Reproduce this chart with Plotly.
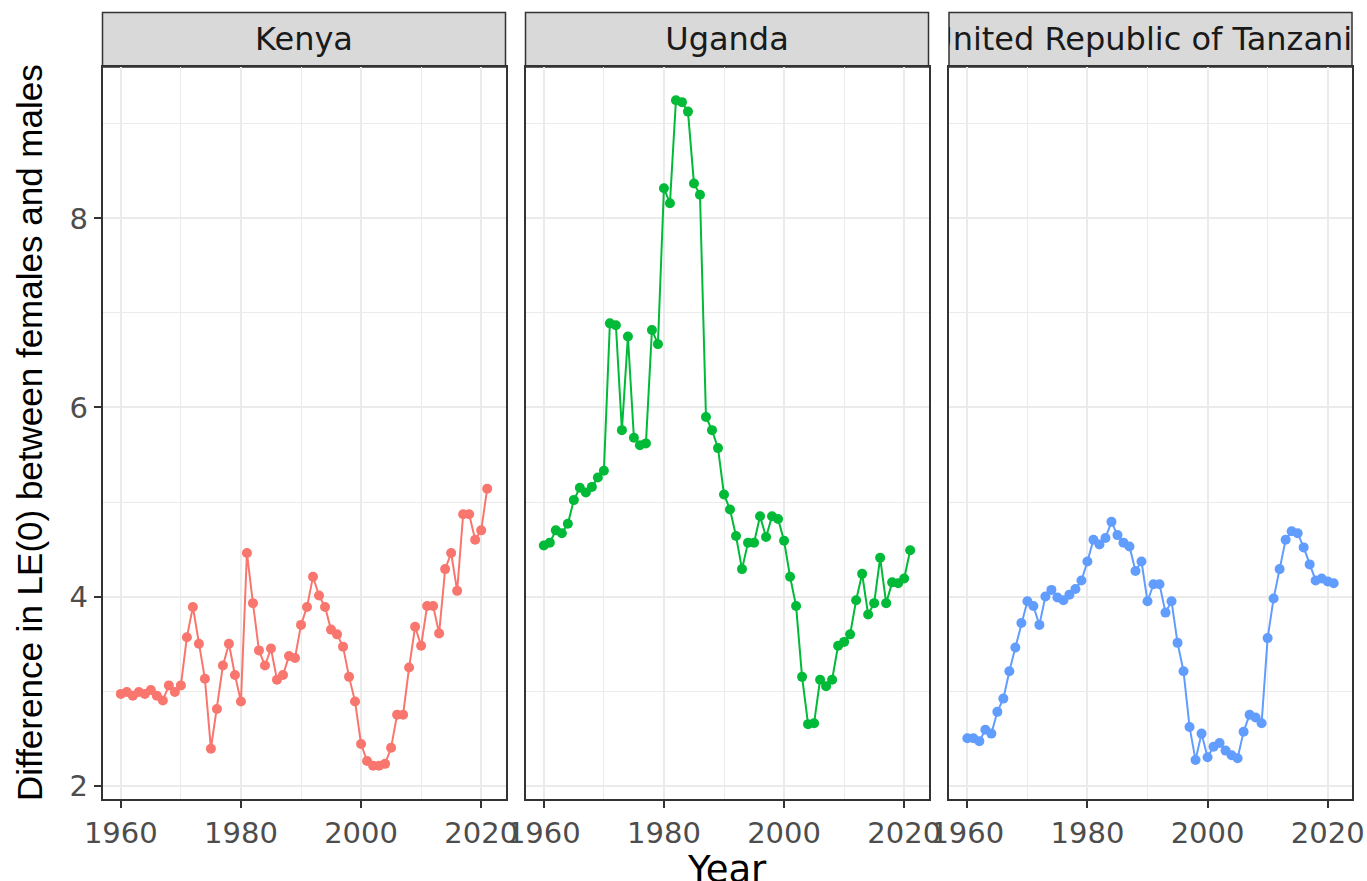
import plotly.graph_objects as go

# ---------------- data ----------------
years = list(range(1960, 2022))

kenya = [2.97, 2.99, 2.95, 2.99, 2.97, 3.01, 2.95, 2.90, 3.06, 2.99,
         3.06, 3.57, 3.89, 3.50, 3.13, 2.39, 2.81, 3.27, 3.50, 3.17,
         2.89, 4.46, 3.93, 3.43, 3.27, 3.45, 3.12, 3.17, 3.37, 3.35,
         3.70, 3.89, 4.21, 4.01, 3.89, 3.65, 3.60, 3.47, 3.15, 2.89,
         2.44, 2.26, 2.21, 2.21, 2.23, 2.40, 2.75, 2.75, 3.25, 3.68,
         3.48, 3.90, 3.90, 3.61, 4.29, 4.46, 4.06, 4.87, 4.87, 4.60,
         4.70, 5.14]

uganda = [4.54, 4.57, 4.70, 4.67, 4.77, 5.02, 5.15, 5.10, 5.16, 5.26,
          5.33, 6.89, 6.87, 5.76, 6.75, 5.68, 5.60, 5.62, 6.82, 6.67,
          8.32, 8.16, 9.25, 9.23, 9.13, 8.37, 8.25, 5.90, 5.76, 5.57,
          5.08, 4.92, 4.64, 4.29, 4.57, 4.57, 4.85, 4.63, 4.85, 4.82,
          4.59, 4.21, 3.90, 3.15, 2.65, 2.66, 3.12, 3.05, 3.12, 3.48,
          3.52, 3.60, 3.96, 4.24, 3.81, 3.93, 4.41, 3.93, 4.15, 4.14,
          4.19, 4.49]

tanzania = [2.50, 2.50, 2.47, 2.59, 2.55, 2.78, 2.92, 3.21, 3.46, 3.72,
            3.95, 3.90, 3.70, 4.00, 4.07, 3.99, 3.96, 4.02, 4.08, 4.17,
            4.37, 4.60, 4.55, 4.62, 4.79, 4.65, 4.57, 4.53, 4.27, 4.37,
            3.95, 4.13, 4.13, 3.83, 3.95, 3.51, 3.21, 2.62, 2.27, 2.55,
            2.30, 2.41, 2.45, 2.37, 2.32, 2.29, 2.57, 2.75, 2.72, 2.66,
            3.56, 3.98, 4.29, 4.60, 4.69, 4.67, 4.52, 4.34, 4.17, 4.19,
            4.16, 4.14]

countries = ["Kenya", "Uganda", "United Republic of Tanzania"]
series = [kenya, uganda, tanzania]
colors = ["#F8766D", "#00BA38", "#619CFF"]

x_ticks = [1960, 1980, 2000, 2020]
x_minor = [1970, 1990, 2010]
y_ticks = [2, 4, 6, 8]
y_minor = [3, 5, 7, 9]

x_title = "Year"
y_title = "Difference in LE(0) between females and males"

# ---------------- layout geometry (pixels) ----------------
W, H = 1367, 881
panels_px = [(102.5, 505.5), (525.5, 928.5), (949, 1352)]
panel_top, panel_bottom = 67, 799
strip_top = 12.5

x_range = [1956.95, 2024.05]
y_range = [1.858, 9.602]

TICK_FONT = dict(family="DejaVu Sans", size=29, color="#4D4D4D")
STRIP_FONT = dict(family="DejaVu Sans", size=32, color="#1A1A1A")
BORDER = "#333333"
GRID = "#EBEBEB"


def px_x(p):
    return p / W


def px_y(p):
    return 1 - p / H


fig = go.Figure()
layout = dict(
    template="none",
    width=W, height=H,
    margin=dict(l=0, r=0, t=0, b=0, pad=0),
    paper_bgcolor="white", plot_bgcolor="white",
    showlegend=False,
    shapes=[], annotations=[],
)

for i, (name, vals, col) in enumerate(zip(countries, series, colors)):
    k = i + 1
    sfx = "" if k == 1 else str(k)
    l, r = panels_px[i]
    fig.add_trace(go.Scatter(
        x=years, y=vals, mode="lines+markers",
        line=dict(color=col, width=2),
        marker=dict(color=col, size=10, line=dict(width=0)),
        xaxis="x" + sfx, yaxis="y" + sfx, name=name,
        hoverinfo="x+y",
    ))
    layout["xaxis" + sfx] = dict(
        domain=[px_x(l), px_x(r)], anchor="y" + sfx, range=x_range,
        automargin=False,
        tickmode="array", tickvals=x_ticks,
        ticks="outside", ticklen=7, tickwidth=1.5, tickcolor=BORDER,
        tickfont=TICK_FONT,
        showline=True, mirror=True, linecolor=BORDER, linewidth=1.5,
        showgrid=True, gridcolor=GRID, gridwidth=2, zeroline=False,
        minor=dict(tickmode="array", tickvals=x_minor, showgrid=True,
                   gridcolor=GRID, gridwidth=1.2, ticks=""),
        fixedrange=True,
    )
    layout["yaxis" + sfx] = dict(
        domain=[px_y(panel_bottom), px_y(panel_top)], anchor="x" + sfx,
        automargin=False,
        range=y_range, tickmode="array", tickvals=y_ticks,
        showticklabels=(k == 1),
        ticks="outside" if k == 1 else "", ticklen=7, tickwidth=1.5,
        tickcolor=BORDER, tickfont=TICK_FONT,
        showline=True, mirror=True, linecolor=BORDER, linewidth=1.5,
        showgrid=True, gridcolor=GRID, gridwidth=2, zeroline=False,
        minor=dict(tickmode="array", tickvals=y_minor, showgrid=True,
                   gridcolor=GRID, gridwidth=1.2, ticks=""),
        fixedrange=True,
    )
    # strip background
    layout["shapes"].append(dict(
        type="rect", xref="paper", yref="paper",
        x0=px_x(l), x1=px_x(r), y0=px_y(panel_top), y1=px_y(strip_top),
        fillcolor="#D9D9D9", line=dict(color=BORDER, width=1.5), layer="below",
    ))
    # strip label on its own (clipping) axes
    sk = str(k + 3)
    layout["xaxis" + sk] = dict(domain=[px_x(l), px_x(r)], anchor="y" + sk,
                                range=[0, 1], visible=False, fixedrange=True,
                                automargin=False)
    layout["yaxis" + sk] = dict(domain=[px_y(panel_top), px_y(strip_top)],
                                anchor="x" + sk, range=[0, 1], visible=False,
                                fixedrange=True, automargin=False)
    fig.add_trace(go.Scatter(
        x=[0.5], y=[0.45], mode="text", text=[name], textposition="middle center",
        textfont=STRIP_FONT, cliponaxis=True, hoverinfo="skip",
        xaxis="x" + sk, yaxis="y" + sk,
    ))

layout["annotations"].append(dict(
    text=y_title, xref="paper", yref="paper",
    x=px_x(29), y=px_y((panel_top + panel_bottom) / 2),
    xanchor="center", yanchor="middle", textangle=-90, showarrow=False,
    font=dict(family="Liberation Sans, Arial", size=35, color="black"),
))
layout["annotations"].append(dict(
    text=x_title, xref="paper", yref="paper",
    x=px_x((panels_px[0][0] + panels_px[2][1]) / 2), y=px_y(869),
    xanchor="center", yanchor="middle", showarrow=False,
    font=dict(family="DejaVu Sans", size=37, color="black"),
))

fig.update_layout(**layout)
fig.write_html("out.html", include_plotlyjs=True,
               config={"displayModeBar": False},
               post_script="document.body.style.margin='0';")
